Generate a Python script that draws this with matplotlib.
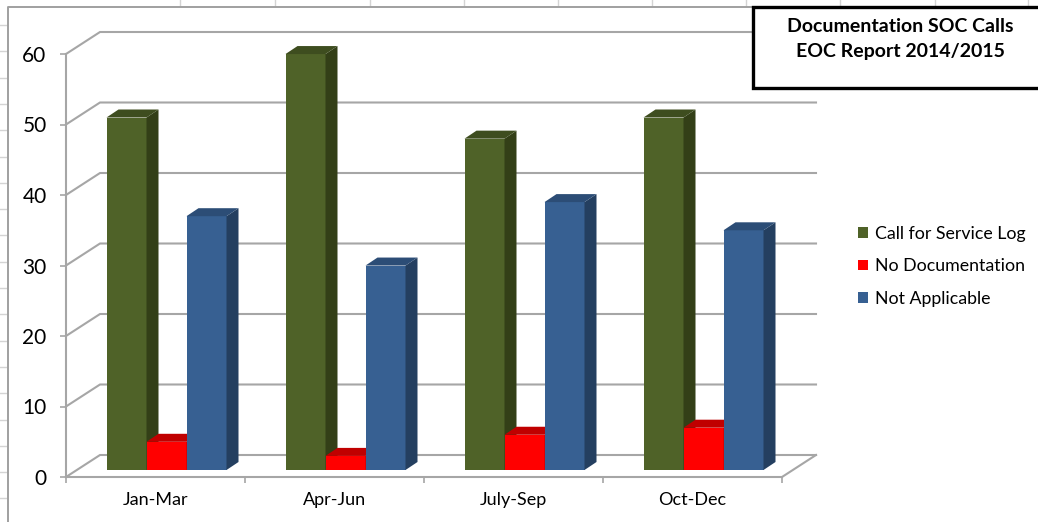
import matplotlib
matplotlib.use("Agg")
import matplotlib.pyplot as plt
from matplotlib.patches import Polygon, Rectangle
from matplotlib.lines import Line2D

plt.rcParams['font.family'] = ['Lato', 'DejaVu Sans']

quarters = ['Jan-Mar', 'Apr-Jun', 'July-Sep', 'Oct-Dec']
series = ['Call for Service Log', 'No Documentation', 'Not Applicable']
call_log = [50, 59, 47, 50]
no_doc = [4, 2, 5, 6]
not_appl = [36, 29, 38, 34]
values = [call_log, no_doc, not_appl]

front_cols = ['#4f6228', '#ff0000', '#376092']
side_cols = ['#333f17', '#c00000', '#243f60']
top_cols = ['#3e4d1f', '#c00000', '#2c4d76']
grid_col = '#a6a6a6'

W, H = 1038, 522
fig = plt.figure(figsize=(W / 100, H / 100), dpi=100)

def fx(px):
    return px / W

def fy(py):
    return 1 - py / H

# spreadsheet cells peeking around the chart object
for x in [180, 275, 370, 464, 558, 652, 746, 840, 935, 1028]:
    fig.add_artist(Line2D([fx(x), fx(x)], [fy(0), fy(6)], color='#d4d4d4', lw=1))
for k in range(19):
    y = 25 + 26.3 * k
    fig.add_artist(Line2D([fx(0), fx(7)], [fy(y), fy(y)], color='#d4d4d4', lw=1))

# chart area border (left and top)
fig.add_artist(Line2D([fx(7.5), fx(7.5), fx(753)], [fy(H), fy(7), fy(7)],
                      color='#a0a0a0', lw=1.4))

ax = fig.add_axes([fx(66), fy(477), fx(782) - fx(66), fy(54) - fy(477)])
ax.set_xlim(-0.5, 3.5)
ax.set_ylim(0, 60)
ax.patch.set_alpha(0)

# depth vectors (data units): back wall, bar front plane, bar depth
DX, DY = 34 / 179, 22 / 7.05
FX, FY = 11 / 179, 7 / 7.05
SX, SY = 12 / 179, 8 / 7.05
bw = 40 / 179

# walls and floor
yt = list(range(0, 61, 10))
for v in yt:
    ax.plot([-0.5, -0.5 + DX, 3.5 + DX], [v, v + DY, v + DY], color=grid_col,
            lw=1.5, clip_on=False, zorder=1, solid_joinstyle='miter')
ax.plot([3.5, 3.5 + DX], [0, DY], color=grid_col, lw=1.5, clip_on=False, zorder=1)

# bars with side and top faces
z = 3
for g in range(len(quarters)):
    for i, vals in enumerate(values):
        v = vals[g]
        x0 = g - 1.5 * bw + i * bw + FX
        ax.bar(x0, v, width=bw, bottom=FY, align='edge', color=front_cols[i],
               lw=0, zorder=z, clip_on=False)
        side = [(x0 + bw, FY), (x0 + bw + SX, FY + SY),
                (x0 + bw + SX, FY + v + SY), (x0 + bw, FY + v)]
        top = [(x0, FY + v), (x0 + SX, FY + v + SY),
               (x0 + bw + SX, FY + v + SY), (x0 + bw, FY + v)]
        ax.add_patch(Polygon(side, closed=True, fc=side_cols[i], lw=0,
                             zorder=z, clip_on=False))
        ax.add_patch(Polygon(top, closed=True, fc=top_cols[i], lw=0,
                             zorder=z, clip_on=False))
        z += 1

for s in ['top', 'right']:
    ax.spines[s].set_visible(False)
for s in ['left', 'bottom']:
    ax.spines[s].set_color(grid_col)
    ax.spines[s].set_linewidth(1.5)

ax.set_yticks(yt)
ax.tick_params(axis='y', length=4, width=1.2, color=grid_col, pad=10,
               labelsize=15, labelcolor='black')
ax.set_xticks([-0.5, 0.5, 1.5, 2.5, 3.5])
ax.set_xticklabels([])
ax.tick_params(axis='x', which='major', length=4, width=1.2, color=grid_col)
ax.set_xticks(range(len(quarters)), minor=True)
ax.set_xticklabels(quarters, minor=True)
ax.tick_params(axis='x', which='minor', length=0, pad=11, labelsize=13,
               labelcolor='black')

# legend
handles = [Rectangle((0, 0), 1, 1, fc=c, lw=0) for c in front_cols]
fig.legend(handles, series, loc='upper left',
           bbox_to_anchor=(fx(849), fy(217)), frameon=False,
           fontsize=12.8, handlelength=0.55, handleheight=0.55,
           handletextpad=0.4, labelspacing=0.92, borderpad=0)

# title box
fig.add_artist(Rectangle((fx(753), fy(88)), 1.1 - fx(753), fy(7) - fy(88),
                         transform=fig.transFigure, fc='white', ec='black',
                         lw=2.4, zorder=10))
fig.text(fx(900), fy(27), 'Documentation SOC Calls', ha='center', va='center',
         fontsize=14, fontweight='bold', zorder=11)
fig.text(fx(900), fy(51), 'EOC Report 2014/2015', ha='center', va='center',
         fontsize=14, fontweight='bold', zorder=11)

fig.savefig('out.png', dpi=100)
